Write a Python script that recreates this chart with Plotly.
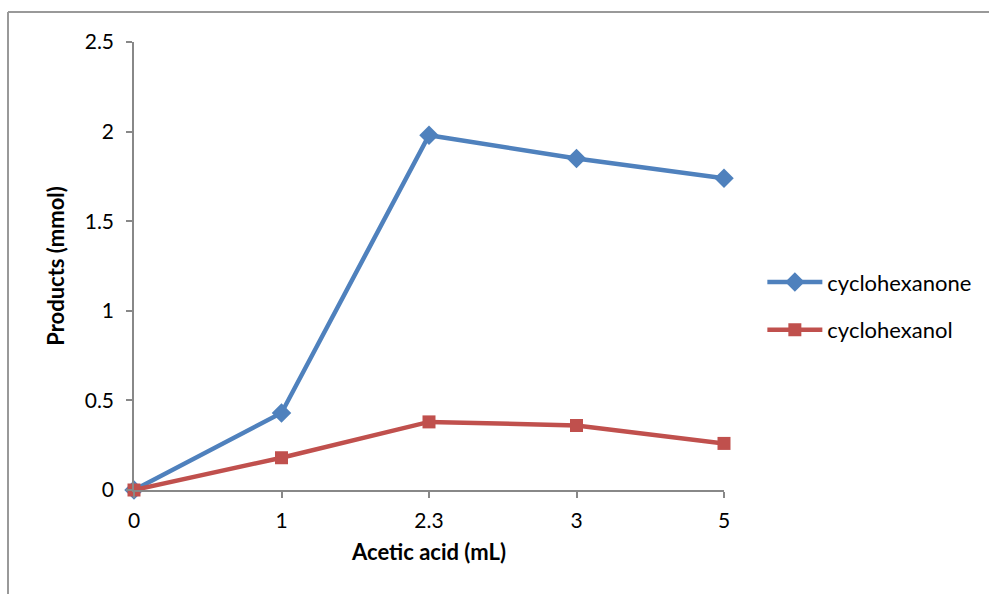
import plotly.graph_objects as go

# Acetic acid volume (mL) used as category labels
acetic_acid = ["0", "1", "2.3", "3", "5"]
# Product amounts (mmol)
cyclohexanone = [0.0, 0.43, 1.98, 1.85, 1.74]
cyclohexanol = [0.0, 0.18, 0.38, 0.36, 0.26]

y_ticks = [0, 0.5, 1, 1.5, 2, 2.5]
y_tick_labels = ["0", "0.5", "1", "1.5", "2", "2.5"]

BLUE = "#4F81BD"
RED = "#C0504D"
AXIS_GRAY = "#888888"
FONT = "Lato, Open Sans, sans-serif"

fig = go.Figure()
fig.add_trace(go.Scatter(
    x=acetic_acid, y=cyclohexanone, name="cyclohexanone",
    mode="lines+markers", legendgroup="a",
    line=dict(color=BLUE, width=4.5),
    marker=dict(symbol="diamond", size=15, color=BLUE),
    cliponaxis=False,
))
fig.add_trace(go.Scatter(
    x=acetic_acid, y=cyclohexanol, name="cyclohexanol",
    mode="lines+markers", legendgroup="b",
    line=dict(color=RED, width=4.5),
    marker=dict(symbol="square", size=13, color=RED),
    cliponaxis=False,
))

fig.update_layout(
    width=989, height=594,
    margin=dict(l=134, r=265, t=42, b=104),
    paper_bgcolor="white", plot_bgcolor="white",
    font=dict(family=FONT, size=21, color="black"),
    showlegend=True,
    legend=dict(
        x=1.065, y=0.41, xanchor="left", yanchor="middle",
        font=dict(family=FONT, size=22, color="black"),
        itemwidth=55, tracegroupgap=16,
        bgcolor="rgba(0,0,0,0)",
    ),
    xaxis=dict(
        type="category", range=[0, 4],
        showline=True, linecolor=AXIS_GRAY, linewidth=1.5,
        ticks="outside", ticklen=6, tickcolor=AXIS_GRAY, tickwidth=1.5,
        showgrid=False, zeroline=False,
        ticklabelstandoff=5,
        tickfont=dict(family=FONT, size=21),
        title=dict(text="<b>Acetic acid (mL)</b>", standoff=14,
                   font=dict(family=FONT, size=22)),
    ),
    yaxis=dict(
        range=[0, 2.5], tickvals=y_ticks, ticktext=y_tick_labels,
        showline=True, linecolor=AXIS_GRAY, linewidth=1.5,
        ticks="outside", ticklen=6, tickcolor=AXIS_GRAY, tickwidth=1.5,
        showgrid=False, zeroline=False,
        ticklabelstandoff=8,
        tickfont=dict(family=FONT, size=21),
        title=dict(text="<b>Products (mmol)</b>", standoff=14,
                   font=dict(family=FONT, size=22)),
    ),
)

# Outer chart frame (left and top edges visible)
fig.add_shape(type="line", xref="paper", yref="paper",
              x0=(8 - 134) / 590, x1=(8 - 134) / 590,
              y0=(490 - 600) / 448, y1=(490 - 12) / 448,
              line=dict(color="#999999", width=2))
fig.add_shape(type="line", xref="paper", yref="paper",
              x0=(8 - 134) / 590, x1=(995 - 134) / 590,
              y0=(490 - 12) / 448, y1=(490 - 12) / 448,
              line=dict(color="#999999", width=2))

fig.write_html("out.html")
